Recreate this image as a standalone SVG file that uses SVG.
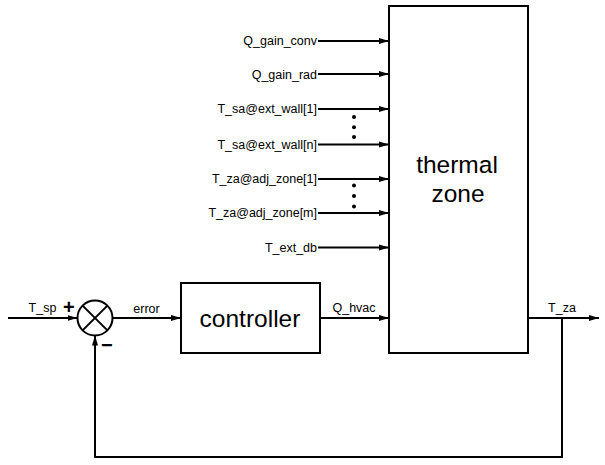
<svg xmlns="http://www.w3.org/2000/svg" width="605" height="465" viewBox="0 0 605 465">
<style>
.box{fill:#fff;stroke:#000;stroke-width:2}
.ln{fill:none;stroke:#000;stroke-width:2}
.arr{marker-end:url(#ah)}
.lbl{font-family:"Liberation Sans",Arial,sans-serif;font-size:12.5px;fill:#000}
.big{font-family:"Liberation Sans",Arial,sans-serif;font-size:24.5px;fill:#000;text-anchor:middle}
.sgn{font-family:"Liberation Sans",Arial,sans-serif;font-size:20px;font-weight:bold;fill:#000}
</style>
<defs>
<marker id="ah" markerUnits="userSpaceOnUse" markerWidth="11" markerHeight="8" refX="10" refY="4" orient="auto">
<path d="M0,1 L10,4 L0,7 Z" fill="#000"/>
</marker>
</defs>
<g id="thermal_zone">
<rect class="box" x="389" y="6" width="139" height="347"/>
<text class="big" x="457" y="173">thermal</text>
<text class="big" x="458" y="202">zone</text>
</g>
<g id="controller">
<rect class="box" x="181" y="283" width="139" height="70"/>
<text class="big" x="250" y="327">controller</text>
</g>
<g id="sum">
<circle cx="95" cy="318" r="17.5" fill="#fff" stroke="#000" stroke-width="2"/>
<line x1="82.6" y1="305.6" x2="107.4" y2="330.4" stroke="#000" stroke-width="2"/>
<line x1="107.4" y1="305.6" x2="82.6" y2="330.4" stroke="#000" stroke-width="2"/>
<text class="sgn" x="63" y="314">+</text>
<text class="sgn" x="101" y="352">−</text>
</g>
<g id="connectors">
<line class="ln arr" x1="318" y1="41" x2="389" y2="41"/>
<line class="ln arr" x1="318" y1="74" x2="389" y2="74"/>
<line class="ln arr" x1="318" y1="109" x2="389" y2="109"/>
<line class="ln arr" x1="318" y1="144.5" x2="389" y2="144.5"/>
<line class="ln arr" x1="318" y1="179" x2="389" y2="179"/>
<line class="ln arr" x1="318" y1="213" x2="389" y2="213"/>
<line class="ln arr" x1="318" y1="247.5" x2="389" y2="247.5"/>
<line class="ln arr" x1="8" y1="318" x2="77.5" y2="318"/>
<line class="ln arr" x1="112.5" y1="318" x2="181" y2="318"/>
<line class="ln arr" x1="320" y1="318" x2="389" y2="318"/>
<line class="ln arr" x1="528" y1="318" x2="599" y2="318"/>
<polyline class="ln arr" points="562,318 562,457 95,457 95,335.5"/>
</g>
<g id="dots" fill="#000">
<circle cx="354" cy="117" r="2"/>
<circle cx="354" cy="127.3" r="2"/>
<circle cx="354" cy="137" r="2"/>
<circle cx="354" cy="185.5" r="2"/>
<circle cx="354" cy="196" r="2"/>
<circle cx="354" cy="206.5" r="2"/>
</g>
<g id="labels" class="lbl">
<text x="317" y="45" text-anchor="end">Q_gain_conv</text>
<text x="317" y="78.5" text-anchor="end">Q_gain_rad</text>
<text x="317" y="113" text-anchor="end">T_sa@ext_wall[1]</text>
<text x="317" y="148.5" text-anchor="end">T_sa@ext_wall[n]</text>
<text x="317" y="183" text-anchor="end">T_za@adj_zone[1]</text>
<text x="317" y="217" text-anchor="end">T_za@adj_zone[m]</text>
<text x="317" y="251.5" text-anchor="end">T_ext_db</text>
<text x="42.5" y="312" text-anchor="middle">T_sp</text>
<text x="146.5" y="313" text-anchor="middle">error</text>
<text x="354" y="312" text-anchor="middle">Q_hvac</text>
<text x="562" y="312" text-anchor="middle">T_za</text>
</g>
</svg>
